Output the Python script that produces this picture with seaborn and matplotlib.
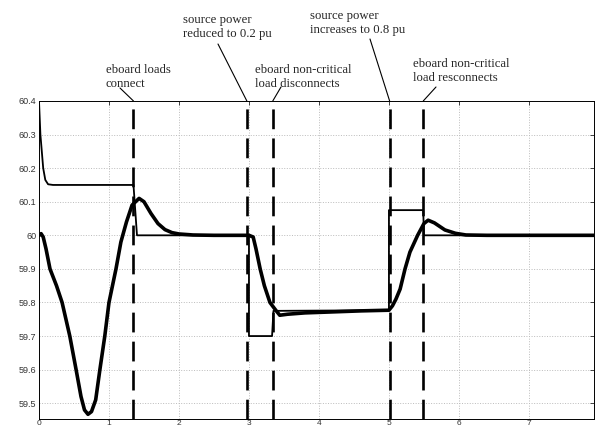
import numpy as np
import pandas as pd
import matplotlib.pyplot as plt
import seaborn as sns

# frequency response (thick line)
freq_t = [0, 0.03, 0.06, 0.10, 0.157, 0.25, 0.33, 0.44, 0.53, 0.60, 0.65, 0.70, 0.75,
          0.81, 0.87, 0.94, 1.00, 1.10, 1.17, 1.25, 1.33, 1.38, 1.43, 1.50, 1.60, 1.70,
          1.80, 1.90, 2.00, 2.20, 2.50, 3.00, 3.06, 3.10, 3.16, 3.22, 3.30, 3.39, 3.44,
          3.55, 3.80, 4.20, 4.60, 5.00, 5.05, 5.10, 5.16, 5.23, 5.30, 5.41, 5.50, 5.56,
          5.65, 5.80, 5.95, 6.10, 6.40, 7.93]
freq_hz = [60.0, 60.005, 59.995, 59.96, 59.90, 59.85, 59.80, 59.70, 59.60, 59.52, 59.48,
           59.467, 59.475, 59.51, 59.60, 59.70, 59.80, 59.90, 59.98, 60.04, 60.09, 60.10,
           60.11, 60.10, 60.065, 60.035, 60.017, 60.008, 60.004, 60.001, 60.0, 60.0,
           59.995, 59.96, 59.90, 59.85, 59.80, 59.775, 59.762, 59.765, 59.769, 59.772,
           59.775, 59.777, 59.79, 59.81, 59.84, 59.90, 59.95, 60.0, 60.035, 60.045,
           60.037, 60.016, 60.006, 60.001, 60.0, 60.0]

# frequency reference (thin step line)
ref_t = [0, 0.02, 0.04, 0.06, 0.09, 0.13, 0.20, 1.35, 1.40, 3.00, 3.00, 3.33, 3.35,
         5.00, 5.00, 5.49, 5.50, 7.93]
ref_hz = [60.4, 60.3, 60.25, 60.2, 60.165, 60.152, 60.15, 60.15, 60.0, 60.0, 59.70,
          59.70, 59.775, 59.777, 60.075, 60.075, 60.0, 60.0]

events = [1.35, 2.97, 3.34, 5.01, 5.49]
labels = ["eboard loads\nconnect",
          "source power\nreduced to 0.2 pu",
          "eboard non-critical\nload disconnects",
          "source power\nincreases to 0.8 pu",
          "eboard non-critical\nload resconnects"]
# label block centre and pointer start, in figure pixels from the top left
label_pos = [(106, 77), (183, 27), (255, 77), (310, 23), (413, 71)]
pointer_start = [(120, 88), (218, 44), (281, 87), (370, 39), (436, 87)]

H = 429
sns.set_style("white")
fig = plt.figure(figsize=(5.95, 4.29), dpi=100)
ax = fig.add_axes([39 / 595, 10 / H, 555 / 595, 318 / H])

ref_df = pd.DataFrame({"t": ref_t, "f": ref_hz})
freq_df = pd.DataFrame({"t": freq_t, "f": freq_hz})
sns.lineplot(data=ref_df, x="t", y="f", sort=False, estimator=None,
             color="black", lw=1.3, ax=ax)
sns.lineplot(data=freq_df, x="t", y="f", sort=False, estimator=None,
             color="black", lw=2.6, ax=ax)

for x in events:
    ax.axvline(x, color="black", lw=1.9, dashes=(7.5, 3.5))

ax.set_xlim(0, 7.93)
ax.set_ylim(59.453, 60.4)
ax.set_xticks(range(8))
ax.set_yticks(np.arange(59.5, 60.41, 0.1))
ax.set_yticklabels(["%g" % round(v, 1) for v in np.arange(59.5, 60.41, 0.1)])
ax.grid(True, ls=":", color="#bbbbbb", lw=0.7)
ax.tick_params(direction="in", length=3, width=0.6, labelsize=6.5, pad=2,
               labelcolor="#333333", top=True, right=True)
ax.tick_params(axis="x", pad=0.8, labelsize=6)
ax.set_xlabel("")
ax.set_ylabel("")
for s in ax.spines.values():
    s.set_color("black")
    s.set_linewidth(0.7)
for lab in ax.get_xticklabels() + ax.get_yticklabels():
    lab.set_family(["Liberation Sans", "DejaVu Sans"])

for x, lab, (lx, ly), (px, py) in zip(events, labels, label_pos, pointer_start):
    ax.annotate("", xy=(x, 60.4), xycoords="data", xytext=(px, H - py),
                textcoords="figure pixels", annotation_clip=False,
                arrowprops=dict(arrowstyle="-", lw=0.8, color="black",
                                shrinkA=0, shrinkB=0))
    fig.text(lx / 595, (H - ly) / H, lab, ha="left", va="center", fontsize=9.2,
             family=["Liberation Serif", "DejaVu Serif"], linespacing=1.3)

plt.savefig("out.png", dpi=100)
